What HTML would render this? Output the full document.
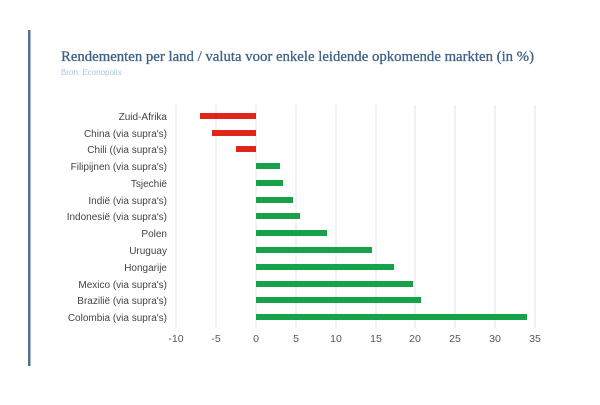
<!DOCTYPE html>
<html><head><meta charset="utf-8"><style>
body{margin:0;background:#fff;width:600px;height:400px;overflow:hidden;font-family:"Liberation Sans",sans-serif}
</style></head><body>
<svg width="600" height="400" xmlns="http://www.w3.org/2000/svg">
<rect x="28" y="30" width="2.5" height="336" fill="#4f6f93"/>
<text x="61" y="61" font-family="Liberation Serif,serif" font-size="15" fill="#3e6285" stroke="#3e6285" stroke-width="0.3" textLength="473" lengthAdjust="spacingAndGlyphs">Rendementen per land / valuta voor enkele leidende opkomende markten (in %)</text>
<text x="61" y="75" font-size="8" fill="#a9c8dc">Bron: Econopolis</text>
<g stroke="#e6e6e6" stroke-width="1">
<line x1="176" y1="105" x2="176" y2="328"/><line x1="216" y1="105" x2="216" y2="328"/>
<line x1="256" y1="105" x2="256" y2="328"/><line x1="296" y1="105" x2="296" y2="328"/>
<line x1="336" y1="105" x2="336" y2="328"/><line x1="376" y1="105" x2="376" y2="328"/>
<line x1="415" y1="105" x2="415" y2="328"/><line x1="455" y1="105" x2="455" y2="328"/>
<line x1="495" y1="105" x2="495" y2="328"/><line x1="535" y1="105" x2="535" y2="328"/>
</g>
<g font-size="10" fill="#444" text-anchor="end">
<text x="167" y="120">Zuid-Afrika</text>
<text x="167" y="137">China (via supra's)</text>
<text x="167" y="153">Chili ((via supra's)</text>
<text x="167" y="170">Filipijnen (via supra's)</text>
<text x="167" y="187">Tsjechië</text>
<text x="167" y="204">Indië (via supra's)</text>
<text x="167" y="220">Indonesië (via supra's)</text>
<text x="167" y="237">Polen</text>
<text x="167" y="254">Uruguay</text>
<text x="167" y="271">Hongarije</text>
<text x="167" y="288">Mexico (via supra's)</text>
<text x="167" y="304">Brazilië (via supra's)</text>
<text x="167" y="321">Colombia (via supra's)</text>
</g>
<g fill="#e0261c">
<rect x="200" y="113" width="56" height="6"/>
<rect x="212" y="130" width="44" height="6"/>
<rect x="236" y="146" width="20" height="6"/>
</g>
<g fill="#17a24a">
<rect x="256" y="163" width="24" height="6"/>
<rect x="256" y="180" width="27" height="6"/>
<rect x="256" y="197" width="37" height="6"/>
<rect x="256" y="213" width="44" height="6"/>
<rect x="256" y="230" width="71" height="6"/>
<rect x="256" y="247" width="116" height="6"/>
<rect x="256" y="264" width="138" height="6"/>
<rect x="256" y="281" width="157" height="6"/>
<rect x="256" y="297" width="165" height="6"/>
<rect x="256" y="314" width="271" height="6"/>
</g>
<g font-size="10.5" fill="#555" text-anchor="middle">
<text x="176" y="342">-10</text><text x="216" y="342">-5</text><text x="256" y="342">0</text>
<text x="296" y="342">5</text><text x="336" y="342">10</text><text x="376" y="342">15</text>
<text x="415" y="342">20</text><text x="455" y="342">25</text><text x="495" y="342">30</text>
<text x="535" y="342">35</text>
</g>
</svg>
</body></html>
